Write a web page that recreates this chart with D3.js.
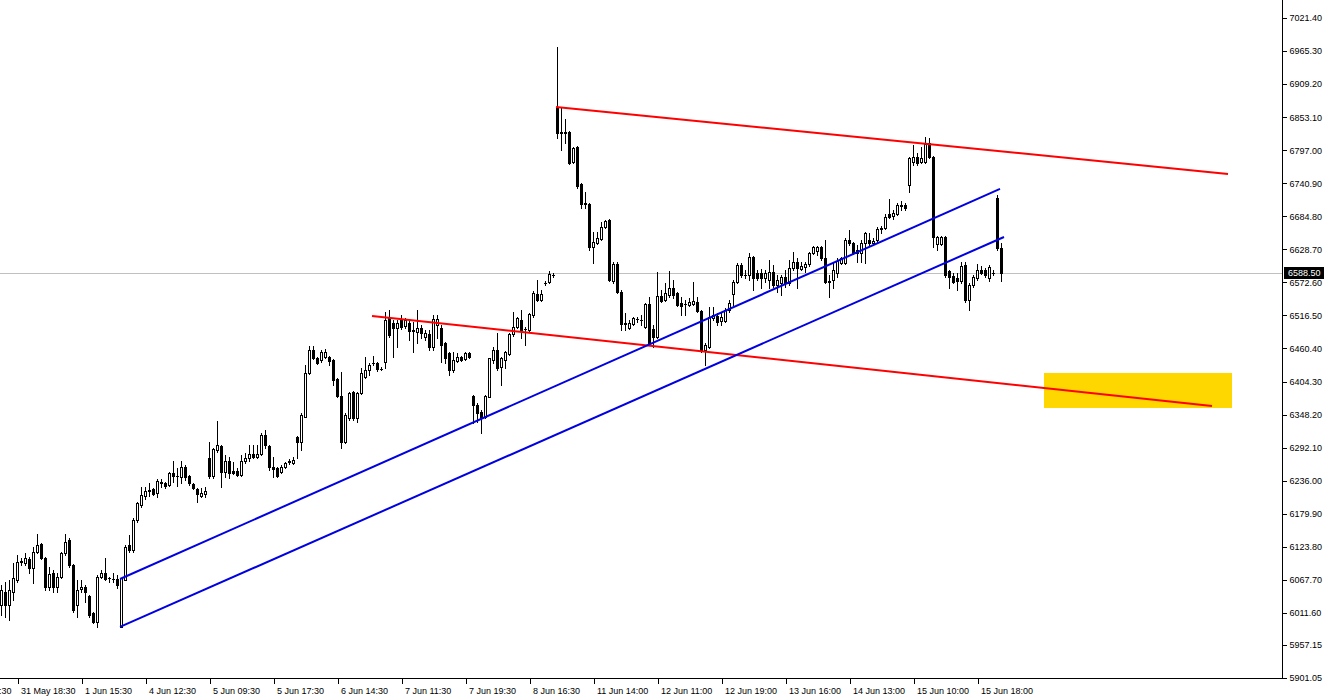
<!DOCTYPE html>
<html><head><meta charset="utf-8">
<script src="https://cdn.jsdelivr.net/npm/d3@7"></script>
<style>html,body{margin:0;padding:0;background:#fff;overflow:hidden}svg{display:block}</style>
</head><body>
<script>
const opens = [
6025.0,6047.0,6025.0,6047.0,6067.4,6097.9,6096.2,6103.0,6087.7,6114.9,
6128.5,6104.7,6055.5,6079.3,6055.5,6072.5,6113.2,6135.3,6092.8,6025.0,
6052.1,6055.5,6040.2,6011.4,5996.2,6072.5,6079.3,6070.8,6069.1,6069.1,
5987.7,6067.4,6126.8,6118.3,6169.2,6194.7,6210.0,6218.5,6221.9,6215.1,
6232.1,6232.1,6228.7,6249.1,6244.0,6242.3,6259.2,6244.0,6230.4,6221.9,
6210.0,6213.4,6274.5,6244.0,6288.1,6294.9,6250.8,6269.4,6252.5,6252.5,
6245.7,6269.4,6274.5,6281.3,6276.2,6281.3,6313.6,6294.9,6259.2,6257.5,
6250.8,6259.2,6267.7,6266.0,6310.2,6301.7,6344.1,6418.8,6457.8,6444.2,
6440.8,6445.9,6445.9,6440.8,6408.6,6379.7,6301.7,6342.4,6386.5,6342.4,
6384.8,6412.0,6423.8,6435.7,6435.7,6425.5,6437.4,6512.1,6503.7,6495.2,
6508.7,6498.6,6503.7,6490.1,6488.4,6495.2,6479.9,6485.0,6462.9,6500.3,
6495.2,6469.7,6452.7,6423.8,6439.1,6445.9,6442.5,6452.7,6379.7,6364.5,
6352.6,6344.1,6378.0,6440.8,6457.8,6428.9,6440.8,6451.0,6485.0,6496.9,
6508.7,6493.5,6491.8,6517.2,6552.9,6542.7,6571.6,6573.3,6585.1,6870.3,
6826.2,6827.9,6827.9,6776.9,6802.4,6739.6,6705.7,6705.7,6632.7,6639.5,
6646.3,6666.7,6678.5,6575.0,6603.8,6556.3,6502.0,6495.2,6502.0,6510.4,
6508.7,6496.9,6535.9,6493.5,6479.9,6549.5,6542.7,6551.2,6563.1,6554.6,
6537.6,6535.9,6534.2,6535.9,6539.3,6524.0,6457.8,6462.9,6512.1,6515.5,
6507.1,6507.1,6525.7,6552.9,6573.3,6602.1,6585.1,6585.1,6615.8,6588.5,
6588.5,6580.0,6576.7,6590.2,6568.2,6571.6,6581.7,6571.6,6597.0,6607.2,
6595.3,6598.7,6603.8,6622.5,6625.9,6632.7,6614.0,6573.3,6576.7,6588.5,
6605.5,6605.5,6644.6,6639.5,6627.6,6622.5,6639.5,6644.6,6639.5,6644.6,
6663.3,6665.0,6688.7,6685.3,6688.7,6704.0,6704.0,6737.9,6776.9,6785.4,
6776.9,6776.9,6809.2,6785.4,6637.8,6637.8,6649.7,6591.9,6583.4,6580.0,
6575.0,6602.1,6542.7,6568.2,6580.0,6593.6,6593.6,6580.0,6588.5,6715.9,
6631.0];
const highs = [
6058.9,6064.0,6067.4,6096.2,6109.8,6104.7,6113.2,6106.4,6123.4,6145.5,
6130.2,6106.4,6089.4,6084.3,6079.3,6114.9,6145.5,6138.7,6094.5,6067.4,
6067.4,6058.9,6041.9,6013.1,6075.9,6084.3,6104.7,6072.5,6079.3,6075.9,
6070.8,6126.8,6143.8,6172.6,6199.8,6225.3,6225.3,6232.1,6223.6,6238.9,
6238.9,6233.8,6250.8,6269.4,6257.5,6269.4,6262.6,6245.7,6232.1,6223.6,
6223.6,6225.3,6301.7,6291.5,6337.4,6296.6,6279.6,6276.2,6267.7,6257.5,
6279.6,6283.0,6296.6,6296.6,6296.6,6317.0,6322.1,6296.6,6276.2,6259.2,
6262.6,6267.7,6272.8,6276.2,6311.9,6350.9,6432.3,6464.6,6464.6,6445.9,
6457.8,6459.5,6447.6,6442.5,6410.3,6420.5,6350.9,6386.5,6388.2,6386.5,
6427.2,6445.9,6435.7,6447.6,6437.4,6428.9,6522.3,6525.7,6508.7,6508.7,
6517.2,6512.1,6510.4,6505.4,6525.7,6500.3,6491.8,6491.8,6517.2,6517.2,
6500.3,6471.4,6454.4,6454.4,6452.7,6447.6,6454.4,6454.4,6381.4,6367.9,
6356.0,6381.4,6445.0,6462.9,6486.7,6445.9,6456.1,6486.7,6522.3,6513.8,
6525.7,6496.9,6520.6,6558.0,6576.7,6559.7,6575.0,6591.9,6588.5,6972.2,
6868.6,6849.9,6829.6,6802.4,6804.1,6740.5,6726.1,6707.4,6658.2,6658.2,
6675.2,6678.5,6680.2,6607.2,6607.2,6559.7,6520.6,6508.7,6513.8,6513.8,
6517.2,6537.6,6547.8,6500.3,6590.2,6559.7,6571.6,6591.9,6576.7,6556.3,
6547.8,6542.7,6546.1,6573.3,6547.8,6525.7,6469.7,6530.8,6530.8,6520.6,
6522.3,6529.1,6542.7,6576.7,6605.5,6605.5,6593.6,6622.5,6617.5,6593.6,
6595.3,6593.6,6610.7,6602.1,6585.1,6585.1,6593.6,6610.7,6624.2,6614.0,
6607.2,6607.2,6624.2,6634.4,6634.4,6634.4,6644.6,6585.1,6607.2,6614.0,
6615.8,6648.0,6661.6,6641.2,6636.1,6644.6,6658.2,6656.5,6648.0,6666.7,
6668.3,6688.7,6714.2,6695.5,6707.4,6710.8,6707.4,6785.4,6805.8,6792.2,
6802.4,6819.4,6817.7,6787.1,6651.4,6651.4,6651.4,6593.6,6588.5,6588.5,
6607.2,6607.2,6571.6,6585.1,6603.8,6600.4,6597.0,6602.1,6593.6,6721.0,
6639.5];
const lows = [
6008.0,6004.6,5999.5,6033.5,6064.0,6092.8,6092.8,6079.3,6062.3,6113.2,
6103.0,6050.4,6050.4,6047.0,6047.0,6070.8,6109.8,6089.4,6013.1,6004.6,
6047.0,6030.1,6004.6,5994.5,5987.7,6070.8,6067.4,6064.0,6064.0,6053.8,
5987.7,6067.4,6114.9,6114.9,6165.9,6191.3,6204.9,6210.0,6211.7,6208.3,
6225.3,6223.6,6227.0,6233.8,6227.0,6232.1,6237.2,6228.7,6221.9,6199.8,
6208.3,6208.3,6240.6,6240.6,6284.7,6225.3,6242.3,6240.6,6247.4,6244.0,
6244.0,6266.0,6269.4,6274.5,6274.5,6279.6,6291.5,6254.1,6242.3,6242.3,
6249.1,6257.5,6264.3,6264.3,6274.5,6288.1,6343.5,6417.1,6442.5,6434.0,
6437.4,6444.2,6432.3,6398.4,6378.0,6291.5,6300.0,6339.0,6339.0,6335.7,
6383.1,6410.3,6415.4,6432.3,6422.2,6423.8,6427.2,6479.9,6445.9,6462.9,
6493.5,6495.2,6474.8,6454.4,6469.7,6478.2,6474.8,6457.8,6457.8,6478.2,
6437.4,6435.7,6415.4,6420.5,6437.4,6439.1,6440.8,6444.2,6334.0,6335.7,
6317.0,6342.4,6377.5,6435.7,6423.8,6398.4,6427.2,6449.3,6481.6,6495.2,
6478.2,6466.3,6488.4,6513.8,6541.0,6541.0,6568.2,6571.6,6581.7,6817.7,
6797.3,6809.2,6773.5,6775.2,6732.8,6698.9,6698.9,6627.6,6605.5,6637.8,
6644.6,6665.0,6575.0,6571.6,6554.6,6491.8,6491.8,6493.5,6500.3,6505.4,
6500.3,6495.2,6466.3,6462.9,6478.2,6539.3,6541.0,6547.8,6546.1,6532.5,
6517.2,6517.2,6532.5,6534.2,6522.3,6454.4,6432.3,6461.2,6508.7,6500.3,
6500.3,6505.4,6522.3,6534.2,6571.6,6581.7,6580.0,6576.7,6559.7,6576.7,
6563.1,6573.3,6563.1,6564.8,6556.3,6551.2,6564.8,6568.2,6593.6,6563.1,
6593.6,6590.2,6600.4,6620.9,6619.2,6610.0,6571.6,6547.8,6563.1,6581.7,
6603.8,6603.8,6636.1,6620.9,6607.2,6607.2,6605.5,6636.1,6636.1,6641.2,
6656.5,6663.3,6681.9,6680.2,6687.0,6695.5,6695.5,6726.1,6771.8,6771.8,
6775.2,6775.2,6783.7,6632.7,6627.6,6636.1,6581.7,6563.1,6571.6,6559.7,
6571.6,6539.3,6525.7,6564.8,6576.7,6586.8,6581.7,6575.0,6585.1,6627.6,
6575.0];
const closes = [
6050.4,6025.0,6050.4,6070.8,6097.9,6099.6,6104.7,6087.7,6114.9,6126.8,
6104.7,6055.5,6077.6,6055.5,6072.5,6113.2,6131.9,6092.8,6016.5,6050.4,
6055.5,6047.0,6008.0,5996.2,6072.5,6079.3,6069.1,6070.0,6069.6,6058.9,
6070.8,6123.4,6118.3,6169.2,6198.1,6211.7,6218.5,6219.4,6213.4,6235.5,
6233.8,6227.0,6249.1,6244.0,6244.5,6259.2,6242.3,6232.1,6223.6,6213.4,
6215.1,6218.5,6244.0,6289.8,6296.6,6250.8,6269.4,6249.1,6249.1,6245.7,
6269.4,6274.5,6281.3,6276.2,6281.3,6313.6,6296.6,6259.2,6255.8,6244.0,
6259.2,6266.0,6269.4,6271.1,6301.7,6347.5,6418.8,6457.8,6444.2,6435.7,
6454.4,6454.4,6439.1,6406.9,6379.7,6301.7,6347.5,6384.8,6342.4,6384.8,
6418.8,6423.8,6432.3,6436.2,6425.5,6426.0,6508.7,6483.3,6495.2,6503.7,
6496.9,6508.7,6490.1,6491.0,6495.2,6486.7,6486.7,6462.9,6510.4,6510.4,
6466.3,6444.2,6423.8,6440.8,6445.9,6440.8,6452.7,6445.9,6364.5,6350.9,
6342.4,6379.7,6444.2,6457.8,6427.2,6444.2,6454.4,6485.0,6496.9,6512.1,
6491.8,6494.0,6518.9,6554.6,6542.7,6552.9,6572.1,6586.8,6585.6,6826.2,
6827.9,6826.2,6775.2,6800.7,6736.2,6705.7,6707.4,6632.7,6641.2,6648.0,
6666.7,6676.9,6576.7,6603.8,6556.3,6502.0,6503.7,6503.7,6512.1,6510.9,
6509.2,6535.9,6469.7,6479.9,6549.5,6541.0,6554.6,6563.1,6551.2,6534.2,
6532.5,6536.4,6539.3,6541.0,6524.0,6457.8,6466.3,6513.8,6517.2,6505.4,
6513.8,6525.7,6537.6,6573.3,6602.1,6585.1,6585.6,6615.8,6580.0,6580.0,
6580.0,6588.5,6590.2,6568.2,6576.7,6581.7,6571.6,6597.0,6607.2,6597.0,
6600.4,6603.8,6622.5,6632.7,6632.7,6614.0,6573.3,6575.0,6593.6,6608.9,
6614.0,6644.6,6639.5,6622.5,6622.5,6639.5,6656.5,6639.5,6642.9,6663.3,
6665.0,6683.6,6683.6,6690.4,6704.0,6702.8,6698.9,6783.7,6785.4,6775.2,
6783.7,6807.5,6785.4,6649.7,6649.7,6649.7,6585.1,6581.7,6573.3,6575.0,
6600.4,6542.7,6568.2,6581.7,6593.6,6588.5,6585.1,6598.7,6589.0,6631.0,
6588.5];

const timeLabels = ["31 May 10:30","31 May 18:30","1 Jun 15:30","4 Jun 12:30","5 Jun 09:30","5 Jun 17:30",
  "6 Jun 14:30","7 Jun 11:30","7 Jun 19:30","8 Jun 16:30","11 Jun 14:00","12 Jun 11:00","12 Jun 19:00",
  "13 Jun 16:00","14 Jun 13:00","15 Jun 10:00","15 Jun 18:00"];
const timeLabelBars = [-12,4,20,36,52,68,84,100,116,132,148,164,180,196,212,228,244];
const priceTicks = [7021.40,6965.30,6909.20,6853.10,6797.00,6740.90,6684.80,6628.70,6572.60,6516.50,
  6460.40,6404.30,6348.20,6292.10,6236.00,6179.90,6123.80,6067.70,6011.60,5957.15,5901.05];
const lastPrice = 6588.50;
// trend lines: [barIndex, price] endpoints
const redUpper = [[138.75, 6870.3],[306.75, 6756.6]];
const redLower = [[92.75, 6515.5],[302.75, 6362.8]];
const blueUpper = [[29.75, 6069.1],[249.75, 6731.2]];
const blueLower = [[29.75, 5987.7],[250.75, 6649.7]];
const zoneBars = [260.75, 307.75];
const zonePrices = [6418.8, 6359.4];

const W = 1324, H = 699;
const svg = d3.select("body").append("svg").attr("width", W).attr("height", H);
const x = d3.scaleLinear().domain([0, 250]).range([1, 1001]);
const y = d3.scaleLinear().domain([5901.05, 7021.40]).range([678, 18]);
const FONT = "'Liberation Sans', Arial, sans-serif";

// yellow zone
svg.append("rect")
  .attr("x", x(zoneBars[0])).attr("width", x(zoneBars[1]) - x(zoneBars[0]))
  .attr("y", y(zonePrices[0])).attr("height", y(zonePrices[1]) - y(zonePrices[0]))
  .attr("fill", "#ffd700");

// current price line
svg.append("line").attr("x1", 0).attr("x2", 1282)
  .attr("y1", Math.round(y(lastPrice)) + 0.5).attr("y2", Math.round(y(lastPrice)) + 0.5)
  .attr("stroke", "#c0c0c0").attr("stroke-width", 1);

// candles
const data = opens.map((o, i) => ({i, o, h: highs[i], l: lows[i], c: closes[i]}));
const cg = svg.append("g").attr("shape-rendering", "crispEdges");
const px = d => Math.round(x(d.i));
cg.selectAll("line.wick").data(data).join("line").attr("class", "wick")
  .attr("x1", d => px(d) + 0.5).attr("x2", d => px(d) + 0.5)
  .attr("y1", d => Math.round(y(d.h))).attr("y2", d => Math.round(y(d.l)) + 1)
  .attr("stroke", "#000").attr("stroke-width", 1);
const isDoji = d => Math.abs(Math.round(y(d.o)) - Math.round(y(d.c))) < 1;
cg.selectAll("line.doji").data(data.filter(isDoji)).join("line").attr("class", "doji")
  .attr("x1", d => px(d) - 1).attr("x2", d => px(d) + 2)
  .attr("y1", d => Math.round(y(d.o)) + 0.5).attr("y2", d => Math.round(y(d.o)) + 0.5)
  .attr("stroke", "#000");
const bulls = data.filter(d => !isDoji(d) && d.c > d.o);
const bears = data.filter(d => !isDoji(d) && d.c < d.o);
cg.selectAll("rect.bull").data(bulls).join("rect").attr("class", "bull")
  .attr("x", d => px(d) - 0.5).attr("width", 2)
  .attr("y", d => Math.round(y(d.c)) + 0.5)
  .attr("height", d => Math.max(1, Math.round(y(d.o)) - Math.round(y(d.c))))
  .attr("fill", "#fff").attr("stroke", "#000").attr("stroke-width", 1);
cg.selectAll("rect.bear").data(bears).join("rect").attr("class", "bear")
  .attr("x", d => px(d) - 1).attr("width", 3)
  .attr("y", d => Math.round(y(d.o)))
  .attr("height", d => Math.max(1, Math.round(y(d.c)) - Math.round(y(d.o)) + 1))
  .attr("fill", "#000");

// trend lines
const tl = d3.line().x(d => x(d[0])).y(d => y(d[1]));
[[redUpper, "#ff0000"], [redLower, "#ff0000"], [blueUpper, "#0000e0"], [blueLower, "#0000e0"]].forEach(([pts, col]) => {
  svg.append("path").attr("d", tl(pts)).attr("fill", "none").attr("stroke", col).attr("stroke-width", 2);
});

// axes frame
const ag = svg.append("g").attr("shape-rendering", "crispEdges");
ag.append("line").attr("x1", 1282.5).attr("x2", 1282.5).attr("y1", 0).attr("y2", 679).attr("stroke", "#000");
ag.append("line").attr("x1", 0).attr("x2", 1283).attr("y1", 678.5).attr("y2", 678.5).attr("stroke", "#000");

// price axis
const yAxis = d3.axisRight(y).tickValues(priceTicks).tickSize(4).tickPadding(3)
  .tickFormat(d => d.toFixed(2));
const yg = svg.append("g").attr("transform", "translate(1282.5,0)").call(yAxis);
yg.select(".domain").remove();
yg.selectAll("line").attr("shape-rendering", "crispEdges");
yg.selectAll("text").attr("font-family", FONT).attr("font-size", 9).attr("fill", "#000");

// time axis
const xAxis = d3.axisBottom(x).tickValues(timeLabelBars).tickSize(5).tickPadding(4)
  .tickFormat((d, i) => timeLabels[i]);
const xg = svg.append("g").attr("transform", "translate(0.5,678.5)").call(xAxis);
xg.select(".domain").remove();
xg.selectAll("line").attr("shape-rendering", "crispEdges");
xg.selectAll("text").attr("font-family", FONT).attr("font-size", 9).attr("fill", "#000")
  .attr("text-anchor", "start").attr("dx", 3);

// last price box
const ly = Math.round(y(lastPrice));
svg.append("rect").attr("x", 1284).attr("y", ly - 6).attr("width", 40).attr("height", 12).attr("fill", "#000");
svg.append("text").attr("x", 1288).attr("y", ly).attr("dy", "0.35em")
  .attr("font-family", FONT).attr("font-size", 9).attr("fill", "#fff").text(lastPrice.toFixed(2));
</script>
</body></html>
